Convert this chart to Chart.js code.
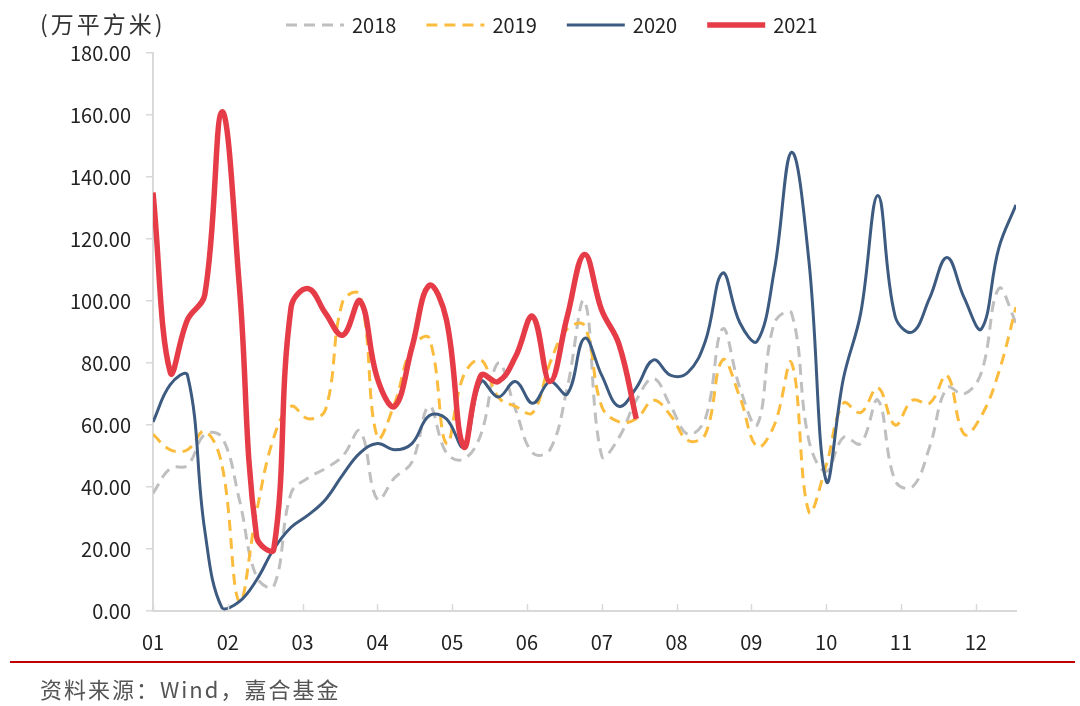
<!DOCTYPE html>
<html>
<head>
<meta charset="utf-8">
<script src="https://cdn.jsdelivr.net/npm/chart.js@4.4.1/dist/chart.umd.min.js"></script>
<style>
html,body{margin:0;padding:0;background:#fff;}
</style>
</head>
<body>
<canvas id="chart" width="1080" height="706"></canvas>
<script>
// weekly values, 万平方米
var months = ['01','02','03','04','05','06','07','08','09','10','11','12'];
var yMax = 180, yStep = 20;
var weeksPerMonth = 52 / 12;

var s2018 = [38,46,47,57,56,36,11,8,38,43,46,50,58,36,43,48,66,51,49,57,80,65,51,52,72,100,50,56,68,75,66,57,62,91,72,60,93,96,55,45,56,54,68,42,40,53,72,70,77,104,93];
var s2019 = [57,52,52,58,47,3,32,56,66,62,65,100,102,56,67,85,88,54,76,81,69,66,64,80,91,92,66,61,62,68,63,55,57,81,69,53,60,80,32,47,67,64,72,60,68,67,76,57,63,77,98];
var s2020 = [61,73,76,26,1,3,10,20,27,31,36,44,51,54,52,54,63,62,53,74,69,74,67,74,70,88,76,66,72,81,76,77,87,109,93,87,110,148,113,42,75,96,134,95,90,101,114,101,91,117,131];
var s2021 = [135,77,94,102,161,105,24,20,98,104,96,89,100,75,66,85,105,94,53,76,74,82,95,74,95,115,97,86,62];

function pts(arr){
    return arr.map(function(v,i){ return {x:i, y:v}; });
}

var font = '"Noto Sans CJK SC", "Noto Sans", sans-serif';

var decor = {
    id: 'decor',
    afterDraw: function(chart){
        var ctx = chart.ctx, xs = chart.scales.x, area = chart.chartArea;
        ctx.save();
        // x ticks point inwards
        ctx.strokeStyle = '#d9d9d9';
        ctx.lineWidth = 1.5;
        xs.ticks.forEach(function(t){
            var px = Math.round(xs.getPixelForValue(t.value)) + 0.5;
            ctx.beginPath();
            ctx.moveTo(px, area.bottom);
            ctx.lineTo(px, area.bottom - 7);
            ctx.stroke();
        });
        // unit
        ctx.fillStyle = '#333';
        ctx.textBaseline = 'middle';
        ctx.textAlign = 'left';
        ctx.font = '23px ' + font;
        ctx.letterSpacing = '3px';
        ctx.fillText('(万平方米)', 40, 24);
        ctx.letterSpacing = '0px';
        // legend
        var x = 286;
        ctx.font = '20px ' + font;
        chart.data.datasets.forEach(function(ds){
            ctx.strokeStyle = ds.borderColor;
            ctx.lineWidth = ds.borderWidth;
            ctx.setLineDash(ds.borderDash || []);
            ctx.beginPath();
            ctx.moveTo(x, 25);
            ctx.lineTo(x + 58, 25);
            ctx.stroke();
            ctx.setLineDash([]);
            ctx.fillStyle = '#222';
            ctx.fillText(ds.label, x + 66, 25);
            x += 66 + ctx.measureText(ds.label).width + 30;
        });
        // footer
        ctx.strokeStyle = '#c00000';
        ctx.lineWidth = 2;
        ctx.beginPath();
        ctx.moveTo(10, 662);
        ctx.lineTo(1075, 662);
        ctx.stroke();
        ctx.fillStyle = '#555';
        ctx.font = '22px ' + font;
        ctx.letterSpacing = '2px';
        ctx.fillText('资料来源：Wind，嘉合基金', 40, 690);
        ctx.restore();
    }
};

new Chart(document.getElementById('chart').getContext('2d'), {
    type: 'line',
    data: {
        datasets: [
            {label:'2018', data:pts(s2018), borderColor:'#bfbfbf', borderWidth:3, borderDash:[11,7], order:4},
            {label:'2019', data:pts(s2019), borderColor:'#fbbb3c', borderWidth:3, borderDash:[11,7], order:3},
            {label:'2020', data:pts(s2020), borderColor:'#3d5a80', borderWidth:3, order:2},
            {label:'2021', data:pts(s2021), borderColor:'#e63c48', borderWidth:5.5, order:1}
        ]
    },
    options: {
        responsive: false,
        animation: false,
        devicePixelRatio: 1,
        layout: {padding: {top:53, right:64, bottom:0, left:0}},
        elements: {
            point: {radius:0},
            line: {tension:0.4, fill:false, borderCapStyle:'butt'}
        },
        plugins: {legend:{display:false}, tooltip:{enabled:false}},
        scales: {
            x: {
                type: 'linear',
                min: 0,
                max: 50,
                afterBuildTicks: function(axis){
                    axis.ticks = months.map(function(m,i){ return {value: i * weeksPerMonth}; });
                },
                afterFit: function(s){ s.height = 95; },
                ticks: {
                    callback: function(v, i){ return months[i]; },
                    color:'#222', font:{size:20, family:font}, padding:19,
                    maxRotation:0, autoSkip:false
                },
                grid: {display:true, drawOnChartArea:false, drawTicks:false, color:'#d9d9d9'},
                border: {display:true, color:'#d9d9d9', width:2}
            },
            y: {
                min: 0,
                max: yMax,
                afterFit: function(s){ s.width = 153; },
                ticks: {
                    stepSize: yStep,
                    callback: function(v){ return v.toFixed(2); },
                    color:'#222', font:{size:20, family:font}, padding:15
                },
                grid: {drawOnChartArea:false, tickLength:7, color:'#d9d9d9', lineWidth:1.5},
                border: {display:true, color:'#d9d9d9', width:2}
            }
        }
    },
    plugins: [decor]
});
</script>
</body>
</html>
